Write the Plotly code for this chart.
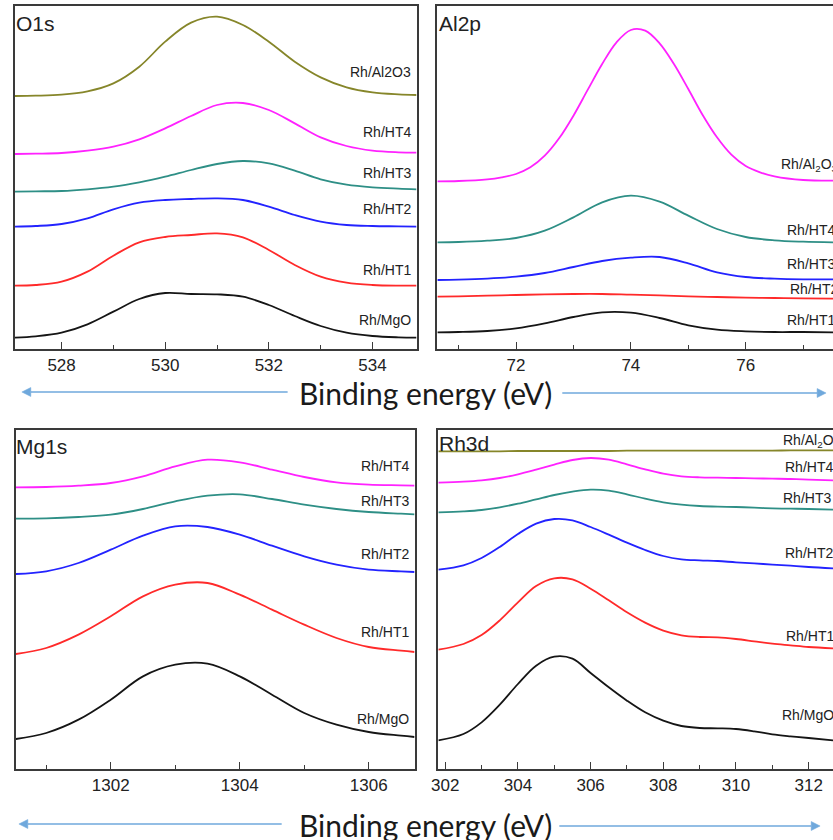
import plotly.graph_objects as go

W, H = 833, 840

# ---------------- data (intensity in arbitrary units) ----------------
o1s_energy = [527.1, 527.5, 528, 528.5, 529, 529.5, 530, 530.5, 531, 531.5, 532, 532.5, 533, 533.5, 534, 534.5, 534.85]
o1s_rh_al2o3 = [759, 760, 763, 773, 797, 847, 922, 979, 997, 972, 922, 862, 815, 785, 770, 764, 762]
o1s_rh_ht4 = [585, 586, 588, 595, 607, 629, 662, 699, 732, 738, 717, 677, 635, 609, 595, 590, 589]
o1s_rh_ht3 = [472, 473, 474, 479, 487, 500, 517, 537, 555, 564, 557, 535, 509, 493, 485, 481, 479]
o1s_rh_ht2 = [367, 369, 375, 392, 419, 439, 447, 450, 452, 447, 427, 402, 382, 372, 369, 368, 367]
o1s_rh_ht1 = [190, 192, 202, 232, 280, 320, 336, 342, 347, 335, 297, 252, 217, 199, 192, 190, 190]
o1s_rh_mgo = [34, 38, 49, 74, 112, 150, 168, 165, 164, 157, 132, 99, 69, 49, 39, 35, 34]

al2p_energy = [70.63, 71, 71.5, 72, 72.5, 73, 73.5, 74, 74.5, 75, 75.5, 76, 76.5, 77, 77.52]
al2p_energy_fine = [70.63, 71, 71.5, 71.75, 72, 72.25, 72.5, 72.75, 73, 73.25, 73.5, 73.75, 74, 74.25,
                    74.5, 74.75, 75, 75.25, 75.5, 75.75, 76, 76.25, 76.5, 77, 77.52]
al2p_rh_al2o3 = [503, 504, 509, 515, 525, 545, 580, 632, 700, 778, 855, 920, 957, 955,
                 917, 855, 780, 702, 635, 583, 549, 530, 518, 507, 505]
al2p_rh_ht4 = [320, 321, 325, 333, 355, 395, 440, 460, 442, 400, 360, 336, 326, 322, 320]
al2p_rh_ht3 = [207, 208, 211, 217, 228, 246, 264, 274, 276, 257, 230, 216, 211, 209, 209]
al2p_rh_ht2 = [157, 158, 160, 162, 164, 165, 165, 163, 161, 158, 156, 154, 153, 152, 151]
al2p_rh_ht1 = [50, 51, 54, 62, 77, 96, 110, 109, 93, 71, 58, 53, 51, 51, 50]

mg1s_energy = [1300.53, 1301, 1301.5, 1302, 1302.5, 1303, 1303.5, 1304, 1304.5, 1305, 1305.5, 1306, 1306.5, 1306.71]
mg1s_rh_ht4 = [845, 846, 850, 858, 878, 908, 928, 920, 898, 876, 860, 853, 851, 850]
mg1s_rh_ht3 = [751, 752, 756, 763, 780, 803, 820, 824, 810, 793, 780, 771, 766, 764]
mg1s_rh_ht2 = [585, 593, 618, 658, 700, 728, 726, 703, 670, 638, 613, 598, 593, 591]
mg1s_rh_ht1 = [345, 363, 403, 458, 518, 553, 558, 523, 478, 433, 393, 366, 355, 351]
mg1s_rh_mgo = [90, 108, 148, 208, 278, 313, 316, 278, 223, 168, 133, 111, 100, 96]

rh3d_energy = [301.81, 302.5, 303, 303.5, 304, 304.5, 305, 305.5, 306, 306.5, 307, 307.5, 308, 308.5,
               309, 309.5, 310, 310.5, 311, 311.5, 312, 312.67]
rh3d_rh_al2o3 = [953, 953, 953, 953, 954, 954, 954, 954, 954, 954, 955, 955, 955, 955, 955, 955, 955, 955, 955, 956, 956, 956]
rh3d_rh_ht4 = [859, 862, 866, 873, 884, 898, 913, 927, 933, 928, 914, 899, 886, 878, 875, 874, 873, 872, 871, 870, 868, 866]
rh3d_rh_ht3 = [770, 773, 777, 785, 796, 809, 822, 832, 838, 835, 824, 811, 800, 793, 789, 787, 786, 784, 782, 781, 780, 778]
rh3d_rh_ht2 = [598, 611, 633, 666, 705, 736, 750, 746, 726, 703, 679, 657, 639, 629, 626, 624, 620, 617, 613, 610, 606, 602]
rh3d_rh_ht1 = [358, 375, 402, 446, 500, 549, 572, 569, 541, 506, 470, 439, 415, 401, 396, 395, 390, 383, 376, 371, 366, 362]
rh3d_rh_mgo = [86, 105, 140, 193, 255, 310, 337, 331, 288, 245, 205, 170, 145, 129, 123, 122, 120, 113, 104, 98, 93, 86]

panel_titles = ["O1s", "Al2p", "Mg1s", "Rh3d"]
axis_title = "Binding energy (eV)"

# ---------------- styles ----------------
OLIVE = "#86862a"
MAGENTA = "#ff22ff"
TEAL = "#2e8f86"
BLUE = "#2323ff"
RED = "#ff2a2a"
BLACK = "#151515"
FRAME = "#3a3a3a"
ARROW = "#6fa8dc"
LBL_FONT = "Liberation Sans, Arial, sans-serif"

def px(p):
    return p / W

def py(p):
    return 1 - p / H

fig = go.Figure()

def add(xs, ys, color, ax):
    fig.add_trace(go.Scatter(x=xs, y=ys, mode="lines",
                             line=dict(color=color, width=1.8, shape="spline", smoothing=1.0),
                             xaxis="x" + ax, yaxis="y" + ax, showlegend=False, hoverinfo="skip"))

for ys, c in [(o1s_rh_al2o3, OLIVE), (o1s_rh_ht4, MAGENTA), (o1s_rh_ht3, TEAL),
              (o1s_rh_ht2, BLUE), (o1s_rh_ht1, RED), (o1s_rh_mgo, BLACK)]:
    add(o1s_energy, ys, c, "")
add(al2p_energy_fine, al2p_rh_al2o3, MAGENTA, "2")
for ys, c in [(al2p_rh_ht4, TEAL), (al2p_rh_ht3, BLUE), (al2p_rh_ht2, RED), (al2p_rh_ht1, BLACK)]:
    add(al2p_energy, ys, c, "2")
for ys, c in [(mg1s_rh_ht4, MAGENTA), (mg1s_rh_ht3, TEAL), (mg1s_rh_ht2, BLUE),
              (mg1s_rh_ht1, RED), (mg1s_rh_mgo, BLACK)]:
    add(mg1s_energy, ys, c, "3")
for ys, c in [(rh3d_rh_al2o3, OLIVE), (rh3d_rh_ht4, MAGENTA), (rh3d_rh_ht3, TEAL),
              (rh3d_rh_ht2, BLUE), (rh3d_rh_ht1, RED), (rh3d_rh_mgo, BLACK)]:
    add(rh3d_energy, ys, c, "4")

def xax(domain, rng, anchor):
    return dict(domain=domain, range=rng, anchor=anchor, showgrid=False, zeroline=False,
                showline=True, linecolor=FRAME, linewidth=1.6, mirror=True,
                ticks="inside", ticklen=7, tickwidth=1.3, tickcolor=FRAME, dtick=2, tick0=0,
                minor=dict(ticks="inside", ticklen=4, tickwidth=1.2, tickcolor=FRAME, dtick=1, tick0=1),
                tickfont=dict(family=LBL_FONT, size=17, color="#222"))

def yax(domain, rng, anchor, mirror):
    return dict(domain=domain, range=rng, anchor=anchor, showgrid=False, zeroline=False,
                showline=True, linecolor=FRAME, linewidth=1.6, mirror=mirror,
                showticklabels=False, ticks="")

top_dom = [py(349), py(6)]
bot_dom = [py(769), py(430)]

fig.update_layout(
    width=W, height=H, margin=dict(l=0, r=0, t=0, b=0),
    paper_bgcolor="white", plot_bgcolor="white",
    xaxis=xax([px(8), px(413)], [527.1, 534.85], "y"),
    yaxis=yax(top_dom, [0, 1029], "x", True),
    xaxis2=xax([px(434), 1], [70.63, 77.52], "y2"),
    yaxis2=yax(top_dom, [0, 1029], "x2", False),
    xaxis3=xax([px(9), px(411)], [1300.53, 1306.71], "y3"),
    yaxis3=yax(bot_dom, [0, 1017], "x3", True),
    xaxis4=xax([px(435), 1], [301.81, 312.67], "y4"),
    yaxis4=yax(bot_dom, [0, 1017], "x4", False),
)

ann = []

def label(text, x, y, anchor="right", size=14):
    ann.append(dict(text=text, x=px(x), y=py(y), xref="paper", yref="paper",
                    xanchor=anchor, yanchor="middle", showarrow=False, borderpad=0,
                    font=dict(family=LBL_FONT, size=size, color="#222")))

AL2O3_SUB = "Rh/Al<sub>2</sub>O<sub>3</sub>"

for t, y in [("Rh/Al2O3", 72), ("Rh/HT4", 132), ("Rh/HT3", 173), ("Rh/HT2", 209), ("Rh/HT1", 270), ("Rh/MgO", 320)]:
    label(t, 408, y)
for t, x, y in [(AL2O3_SUB, 780, 165), ("Rh/HT4", 786, 230), ("Rh/HT3", 786, 264), ("Rh/HT2", 789, 289), ("Rh/HT1", 786, 320)]:
    label(t, x, y, anchor="left")
for t, y in [("Rh/HT4", 466), ("Rh/HT3", 501), ("Rh/HT2", 554), ("Rh/HT1", 632), ("Rh/MgO", 719)]:
    label(t, 406, y)
for t, x, y in [(AL2O3_SUB, 782, 441), ("Rh/HT4", 784, 467), ("Rh/HT3", 782, 498), ("Rh/HT2", 784, 553), ("Rh/HT1", 785, 636), ("Rh/MgO", 781, 715)]:
    label(t, x, y, anchor="left")

for t, x, y in [(panel_titles[0], 8, 23), (panel_titles[1], 435, 23), (panel_titles[2], 8, 446), (panel_titles[3], 435, 443)]:
    label(t, x, y, anchor="left", size=21)

for y in [393, 825]:
    ann.append(dict(text=axis_title, x=px(422), y=py(y), xref="paper", yref="paper",
                    xanchor="center", yanchor="middle", showarrow=False,
                    font=dict(family="Lato, sans-serif", size=30, color="#1a1a1a")))

fig.update_layout(annotations=ann)

# arrows drawn as shapes (line + filled triangular head)
def arrow(x_tail, x_head, y):
    d = 1 if x_head > x_tail else -1
    base = x_head - d * 9
    fig.add_shape(type="line", xref="paper", yref="paper",
                  x0=px(x_tail), y0=py(y), x1=px(base), y1=py(y),
                  line=dict(color=ARROW, width=1.5))
    path = "M {},{} L {},{} L {},{} Z".format(px(x_head), py(y), px(base), py(y - 4.5), px(base), py(y + 4.5))
    fig.add_shape(type="path", xref="paper", yref="paper", path=path,
                  fillcolor=ARROW, line=dict(color=ARROW, width=0.5))

arrow(283, 15, 392)
arrow(560, 826, 393)
arrow(277, 12, 824)
arrow(557, 820, 826)

fig.write_html("out.html")
